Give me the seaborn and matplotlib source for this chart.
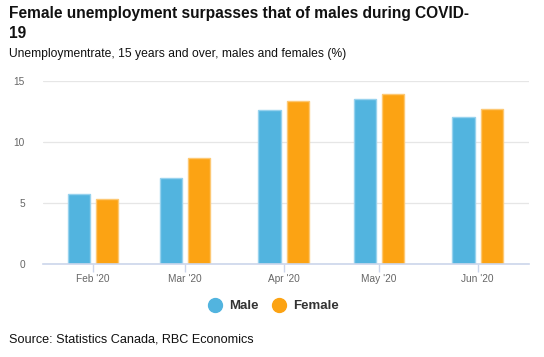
import pandas as pd
import numpy as np
import matplotlib.pyplot as plt
import seaborn as sns

# data
months = ["Feb '20", "Mar '20", "Apr '20", "May '20", "Jun '20"]
month_day = [31, 60, 91, 121, 152]   # day of year of the 1st of each month (date axis)
male = [5.7, 7.0, 12.6, 13.5, 12.0]
female = [5.3, 8.7, 13.3, 13.9, 12.7]
series = ["Male", "Female"]
colors = {"Male": "#52B4DF", "Female": "#FCA313"}
edges = {"Male": "#97D2EE", "Female": "#FDC873"}

df = pd.DataFrame({
    "day": month_day * 2,
    "rate": male + female,
    "sex": ["Male"] * len(male) + ["Female"] * len(female),
})

sns.set_theme(style="white")
plt.rcParams["font.family"] = ["Liberation Sans", "DejaVu Sans"]

fig = plt.figure(figsize=(5.44, 3.57), dpi=100)
ax = fig.add_axes([0.079, 0.2605, 0.893, 0.5135])

sns.barplot(data=df, x="day", y="rate", hue="sex", hue_order=series,
            palette=colors, saturation=1, native_scale=True, width=0.615, gap=0.21,
            legend=False, ax=ax, zorder=3)

# lighter bar borders like the original
for container, name in zip(ax.containers, series):
    for p in container:
        p.set_edgecolor(edges[name])
        p.set_linewidth(1.0)

ax.set_xlim(15.3, 168.1)
ax.set_ylim(0, 15)
ax.set_yticks([0, 5, 10, 15])
ax.set_xticks(month_day)
ax.set_xticklabels(months)
ax.set_xlabel("")
ax.set_ylabel("")
ax.grid(axis="y", color="#e6e6e6", linewidth=0.9, zorder=0)
ax.grid(axis="x", visible=False)
for s in ["top", "right", "left"]:
    ax.spines[s].set_visible(False)
ax.spines["bottom"].set_color("#ccd6eb")
ax.spines["bottom"].set_linewidth(1.2)
ax.spines["bottom"].set_zorder(4)
ax.tick_params(axis="x", colors="#666666", labelsize=7.3, length=6, width=1,
               color="#ccd6eb", pad=1, direction="out", bottom=True)
ax.tick_params(axis="y", colors="#666666", labelsize=7.3, length=0, pad=13)

fig.text(0.0165, 0.982, "Female unemployment surpasses that of males during COVID-\n19",
         fontsize=11.2, fontweight="bold", color="#111111", va="top", ha="left",
         linespacing=1.38)
fig.text(0.0165, 0.849, "Unemploymentrate, 15 years and over, males and females (%)",
         fontsize=8.7, color="#111111", va="center", ha="left")
fig.text(0.0165, 0.05, "Source: Statistics Canada, RBC Economics",
         fontsize=9.1, color="#111111", va="center", ha="left")

# legend with round markers
handles = [plt.Line2D([], [], marker="o", linestyle="", markersize=10,
                      markerfacecolor=colors[n], markeredgecolor=colors[n]) for n in series]
leg = fig.legend(handles, series, loc="center", bbox_to_anchor=(0.497, 0.142), ncol=2,
                 frameon=False, handletextpad=0.1, columnspacing=0.55,
                 prop={"weight": "bold", "size": 9.5})
for t in leg.get_texts():
    t.set_color("#333333")

fig.savefig("out.png", dpi=100)
